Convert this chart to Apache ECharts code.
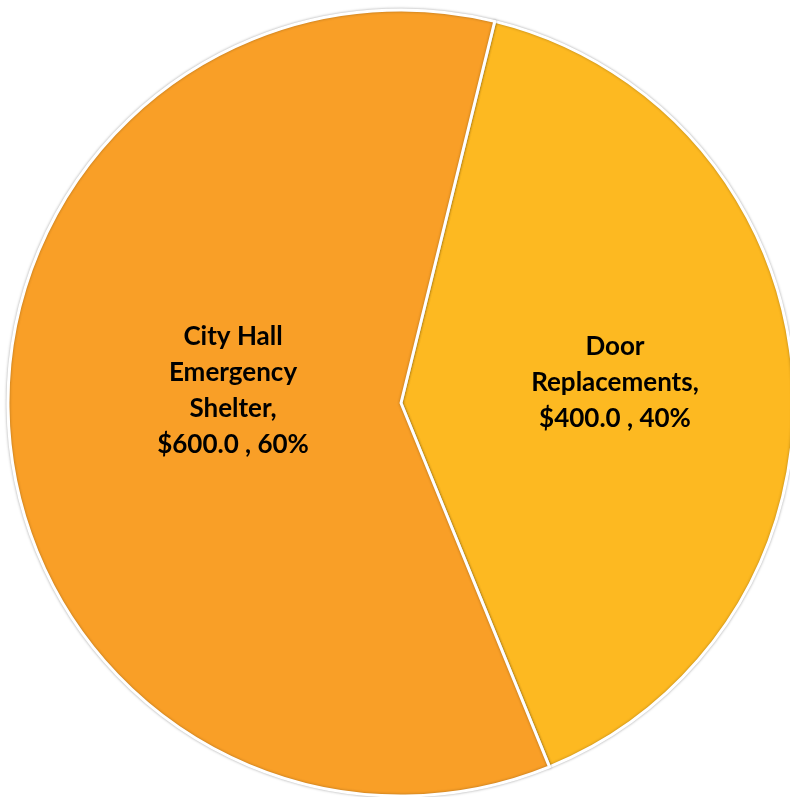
<!DOCTYPE html>
<html>
<head>
<meta charset="utf-8">
<script src="https://cdn.jsdelivr.net/npm/echarts@6/dist/echarts.min.js"></script>
<style>
  html, body { margin: 0; padding: 0; background: #fff; }
  #chart { width: 790px; height: 797px; }
</style>
</head>
<body>
<div id="chart"></div>
<script>
// slice names and amounts (dollars)
var names = ['Door\nReplacements', 'City Hall\nEmergency\nShelter'];
var amounts = [400, 600];
var colors = ['#FDB921', '#F99F27'];

// nudge labels toward where the original sits
var labelShift = [[15, -6], [31, -27]];

var chart = echarts.init(document.getElementById('chart'));

var pieData = names.map(function (n, i) {
    return { name: n, value: amounts[i], itemStyle: { color: colors[i] } };
});

var option = {
    backgroundColor: '#fff',
    animation: false,
    series: [{
        type: 'pie',
        center: [401, 403],
        radius: [0, 393],
        startAngle: 76.2,
        clockwise: true,
        silent: true,
        itemStyle: {
            borderColor: '#fff',
            borderWidth: 3,
            shadowBlur: 3,
            shadowColor: 'rgba(0,0,0,0.3)'
        },
        label: {
            show: true,
            position: 'inside',
            color: '#000',
            fontFamily: 'Lato',
            fontWeight: 'bold',
            fontSize: 26,
            lineHeight: 36,
            align: 'center',
            formatter: function (p) {
                return p.name + ',\n$' + p.value.toFixed(1) + ' , ' + Math.round(p.percent) + '%';
            }
        },
        labelLine: { show: false },
        labelLayout: function (params) {
            var s = labelShift[params.dataIndex];
            return { dx: s[0], dy: s[1] };
        },
        data: pieData
    }]
};

chart.setOption(option);
window.onresize = chart.resize;
</script>
</body>
</html>
